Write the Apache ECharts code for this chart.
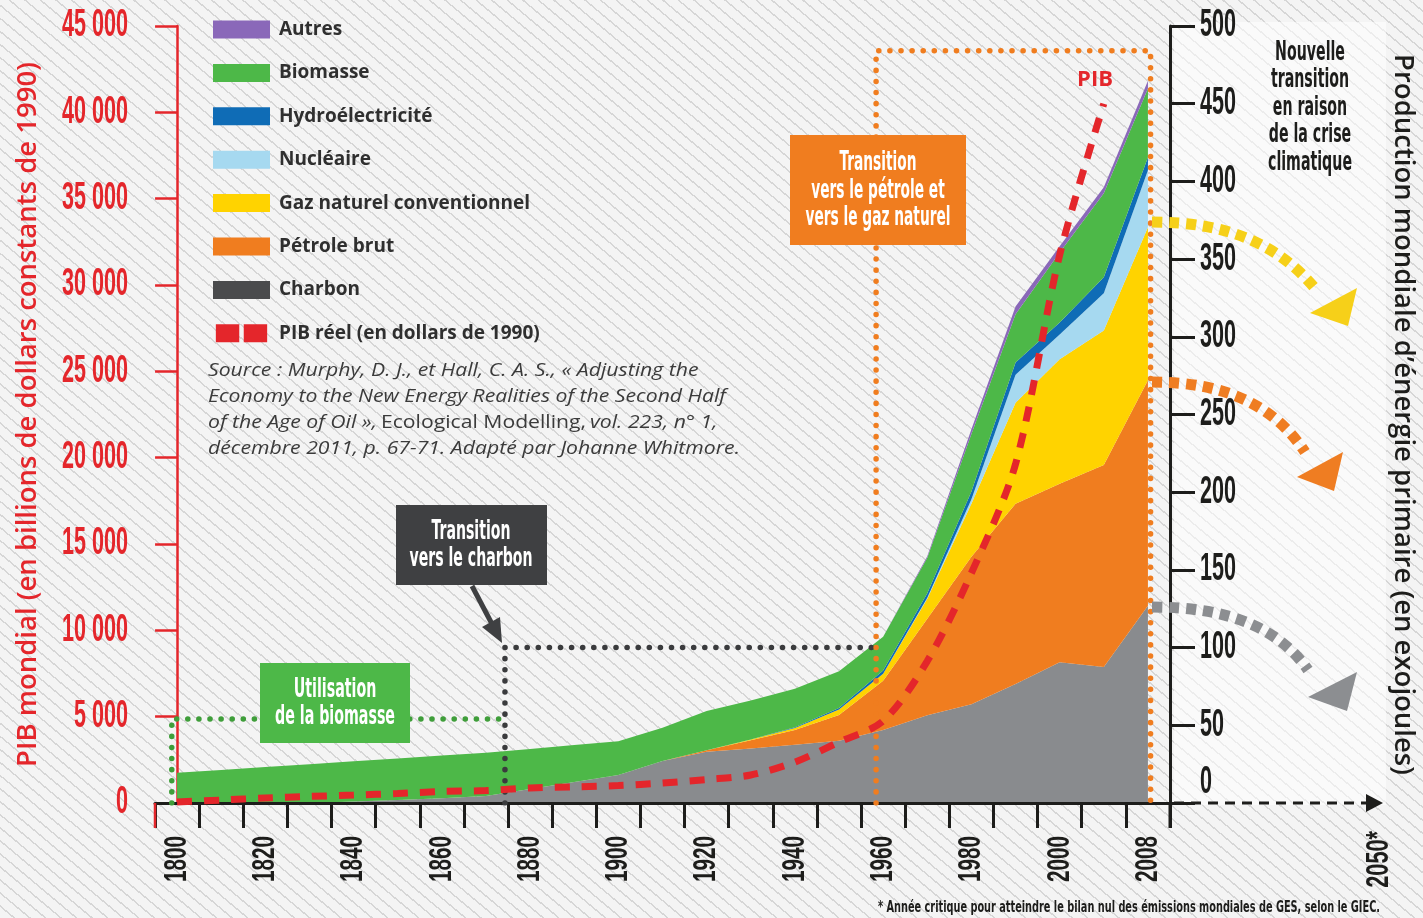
<!DOCTYPE html>
<html lang="fr">
<head>
<meta charset="utf-8">
<title>Transitions énergétiques et PIB mondial</title>
<script src="https://cdn.jsdelivr.net/npm/echarts@6/dist/echarts.min.js"></script>
<style>
  html, body { margin:0; padding:0; }
  body { width:1423px; height:918px; overflow:hidden;
    background-color:#f3f3f3;
    background-image: repeating-linear-gradient(40deg, #f4f4f4 0px, #f4f4f4 8.5px, #d6d6d6 8.5px, #d6d6d6 10px); }
  #chart { width:1423px; height:918px; }
</style>
</head>
<body>
<div id="chart"></div>
<script>
// ---------- Données ----------
const annees = ['1800','1810','1820','1830','1840','1850','1860','1870','1880','1890','1900','1910','1920','1930','1940','1950','1960','1970','1980','1990','2000','2004','2008'];
// Production d'énergie primaire (EJ)
const charbon   = [0,0,0,0,1,2,3,4.5,9,13.5,18,27,33,35,37.5,40,47,56.5,63.5,76.5,90.5,87.5,127];
const petrole   = [0,0,0,0,0,0,0,0,0,0,0,0,1,5.3,9.5,16.6,31.7,62,95,116,115,130,145];
const gaz       = [0,0,0,0,0,0,0,0,0,0,0,0,0,0.5,1.3,3.5,4.5,13,34,65,80,86.5,98.5];
const nucleaire = [0,0,0,0,0,0,0,0,0,0,0,0,0,0,0,0,0,0.5,3,18,16,24,36.6];
const hydro     = [0,0,0,0,0,0,0,0,0,0,0,0,0,0,0.5,1,2,3,5,8,7.7,10.3,8.4];
const biomasse  = [19.5,21.3,23.2,25,25.8,26.6,27.5,27.9,25.7,23.8,21.7,21.5,25.2,25.2,24.8,23.7,21.8,22.8,37,31,45,54,44.3];
const autres    = [0,0,0,0,0,0,0,0,0,0,0,0,0,0,0,0,0,1,3,5,4,4,5];
// PIB réel mondial (milliards de dollars de 1990)
const pib       = [60,170,290,380,460,550,670,720,870,930,1010,1160,1360,1620,2370,3530,4750,8220,13320,19630,31740,40500,null];
// Graduations et étiquettes
const pibMax = 45000, pibPas = 5000;
const energieMax = 500, energiePas = 50;
const graduationsPib = [0,5000,10000,15000,20000,25000,30000,35000,40000,45000];
const graduationsEnergie = [0,50,100,150,200,250,300,350,400,450,500];
const etiquettesAnnees = ['1800','1820','1840','1860','1880','1900','1920','1940','1960','1980','2000','2008'];
const etiquetteHorizon = '2050*';
// Périodes de transition (position sur l'axe des années en rang de catégorie, niveau en EJ)
const periodeBiomasse = { debut: -0.12, fin: 7.3,  niveau: 54 };
const periodeCharbon  = { debut: 7.43,  fin: 15.84, niveau: 100 };
const periodePetrole  = { debut: 15.84, fin: 22.06, niveau: 484 };

// ---------- Styles ----------
const RED = '#e4262b';
const INK = '#1d1d1b';
const COND = "'Liberation Sans Narrow','DejaVu Sans Condensed','Roboto Condensed','Arial Narrow','Liberation Sans',sans-serif";
const LAB = "'Liberation Sans',sans-serif";
const SANS = "'Open Sans','Noto Sans',sans-serif";
const C = {
  autres:'#8a68b9', biomasse:'#4db848', hydro:'#0f6cb6', nucleaire:'#a6d9f0',
  gaz:'#ffd300', petrole:'#f07d1f', charbon:'#898b8e', charbonLeg:'#4a4b4d'
};

const mctx = document.createElement('canvas').getContext('2d');
function widthOf(t, font){ mctx.font = font; return mctx.measureText(t).width; }
function fitScale(lines, font, target){ return target / Math.max(...lines.map(l => widthOf(l, font))); }
function milliers(v){ return String(v).replace(/\B(?=(\d{3})+(?!\d))/g, ' '); }

function condText(cx, cy, lines, color, target, size, lh){
  const font = `bold ${size}px ${COND}`;
  const s = fitScale(lines, font, target);
  return { type:'text', x:cx, y:cy, scaleX:s, z:120, silent:true,
    style:{ text: lines.join('\n'), x:0, y:0, font, fill:color, align:'center', textAlign:'center',
            verticalAlign:'middle', textVerticalAlign:'middle', lineHeight: lh } };
}
function label(x, y, text, font, scale, color, align, rotation){
  return { type:'text', x, y, scaleX:scale, rotation: rotation || 0, z:60, silent:true,
    style:{ text, x:0, y:0, font, fill:color, align, textAlign:align, verticalAlign:'middle', textVerticalAlign:'middle' } };
}

const chart = echarts.init(document.getElementById('chart'), null, { renderer:'canvas' });

function aire(name, data, color){
  return { name, type:'line', stack:'energie', data, xAxisIndex:0, yAxisIndex:1,
    symbol:'none', color, lineStyle:{ width:0, color }, areaStyle:{ color, opacity:1 }, z:2, silent:true };
}
function cadre(points, color){
  return { type:'line', xAxisIndex:1, yAxisIndex:1, data: points, symbol:'none', silent:true, z:5,
    lineStyle:{ color, width:5.5, type:[0.1, 11], cap:'round' } };
}

const srcFont = `italic 18px ${SANS}`;
const srcScale = 532 / widthOf('décembre 2011, p. 67-71. Adapté par Johanne Whitmore.', srcFont);
const footFont = `bold 15px ${COND}`;
const footTxt = '* Année critique pour atteindre le bilan nul des émissions mondiales de GES, selon le GIEC.';
const footScale = 502 / widthOf(footTxt, footFont);

const graphics = [
  { type:'rect', shape:{ x:1174, y:22, width:212, height:783 }, style:{ fill:'rgba(255,255,255,0.55)' }, z:-10, silent:true },
  // prolongements des axes
  { type:'line', shape:{ x1:155, y1:803, x2:155, y2:828 }, style:{ stroke:RED, lineWidth:2.5 }, z:50 },
  { type:'line', shape:{ x1:1170, y1:803, x2:1170, y2:828 }, style:{ stroke:INK, lineWidth:3 }, z:50 },
  { type:'line', shape:{ x1:1174, y1:803, x2:1368, y2:803 }, style:{ stroke:INK, lineWidth:3, lineDash:[10,7] }, z:50 },
  { type:'polygon', shape:{ points:[[1366,794],[1383,803],[1366,812]] }, style:{ fill:INK }, z:50 },
  // flèches de projection
  { type:'bezierCurve', shape:{ x1:1152, y1:222, cpx1:1232, cpy1:222, cpx2:1282, cpy2:247, x2:1318, y2:292 },
    style:{ stroke:'#f6d019', lineWidth:11, lineDash:[10,7], fill:null }, z:40 },
  { type:'polygon', shape:{ points:[[1357,288],[1310,313],[1348,326]] }, style:{ fill:'#f6d019' }, z:40 },
  { type:'bezierCurve', shape:{ x1:1152, y1:382, cpx1:1232, cpy1:382, cpx2:1277, cpy2:410, x2:1305, y2:452 },
    style:{ stroke:'#ef7d22', lineWidth:11, lineDash:[10,7], fill:null }, z:40 },
  { type:'polygon', shape:{ points:[[1343,452],[1297,477],[1334,491]] }, style:{ fill:'#ef7d22' }, z:40 },
  { type:'bezierCurve', shape:{ x1:1152, y1:607, cpx1:1232, cpy1:607, cpx2:1280, cpy2:630, x2:1308, y2:670 },
    style:{ stroke:'#8c8e91', lineWidth:11, lineDash:[10,7], fill:null }, z:40 },
  { type:'polygon', shape:{ points:[[1357,672],[1308,697],[1347,711]] }, style:{ fill:'#8c8e91' }, z:40 },
  // encadrés
  { type:'rect', shape:{ x:260, y:663, width:150, height:80 }, style:{ fill:'#4db848' }, z:110 },
  condText(335, 704, ['Utilisation','de la biomasse'], '#ffffff', 120, 26, 27),
  { type:'rect', shape:{ x:396, y:505, width:151, height:80 }, style:{ fill:'#3f4042' }, z:110 },
  condText(471, 546, ['Transition','vers le charbon'], '#ffffff', 123, 26, 27),
  { type:'line', shape:{ x1:472, y1:586, x2:492, y2:624 }, style:{ stroke:'#3f4042', lineWidth:5 }, z:110 },
  { type:'polygon', shape:{ points:[[502,643],[500,617],[482,627]] }, style:{ fill:'#3f4042' }, z:110 },
  { type:'rect', shape:{ x:790, y:135, width:176, height:110 }, style:{ fill:'#f07d1f' }, z:110 },
  condText(878, 191, ['Transition','vers le pétrole et','vers le gaz naturel'], '#ffffff', 145, 26, 27.5),
  condText(1310, 108, ['Nouvelle','transition','en raison','de la crise','climatique'], INK, 84, 26, 27.5),
  { type:'text', x:1095, y:80, z:120,
    style:{ text:'PIB', x:0, y:0, font:`bold 22px ${SANS}`, fill:RED, align:'center', textAlign:'center', verticalAlign:'middle', textVerticalAlign:'middle' } },
  // source
  { type:'text', x:208, y:358, scaleX:srcScale, z:120, silent:true,
    style:{ x:0, y:0, align:'left', textAlign:'left', verticalAlign:'top', textVerticalAlign:'top',
      text:'{i|Source : Murphy, D. J., et Hall, C. A. S., « Adjusting the}\n{i|Economy to the New Energy Realities of the Second Half}\n{i|of the Age of Oil »,} {n|Ecological Modelling,} {i|vol. 223, n° 1,}\n{i|décembre 2011, p. 67-71. Adapté par Johanne Whitmore.}',
      rich:{
        i:{ fontFamily:SANS, fontStyle:'italic', fontSize:18, fill:'#3b3b3b', color:'#3b3b3b', lineHeight:26 },
        n:{ fontFamily:SANS, fontStyle:'normal', fontSize:18, fill:'#3b3b3b', color:'#3b3b3b', lineHeight:26 }
      } } },
  // note
  { type:'text', x:878, y:908, scaleX:footScale, z:120,
    style:{ text:footTxt, x:0, y:0, font:footFont, fill:INK, align:'left', textAlign:'left', verticalAlign:'middle', textVerticalAlign:'middle' } }
];

const option = {
  animation:false,
  backgroundColor:'transparent',
  textStyle:{ fontFamily:SANS },
  grid:{ left:155, right:253, top:26, bottom:115, containLabel:false, outerBoundsMode:'none' },
  legend:{
    orient:'vertical', left:208, top:15, itemWidth:57, itemHeight:18, itemGap:24.4,
    icon:'rect', selectedMode:false,
    textStyle:{ fontFamily:SANS, fontWeight:'bold', fontSize:19, color:'#2f2f2f', padding:[0,0,0,4] },
    data:[
      { name:'Autres' }, { name:'Biomasse' }, { name:'Hydroélectricité' }, { name:'Nucléaire' },
      { name:'Gaz naturel conventionnel' }, { name:'Pétrole brut' },
      { name:'Charbon', itemStyle:{ color:C.charbonLeg, borderWidth:0 } },
      { name:'PIB réel (en dollars de 1990)', icon:'path://M0,0h26v20h-26z M31,0h26v20h-26z', itemStyle:{ color:RED, borderWidth:0 } }
    ]
  },
  xAxis:[{
    type:'category', data:annees, boundaryGap:true,
    axisLine:{ lineStyle:{ color:INK, width:3 } },
    axisTick:{ show:true, interval:0, length:25, lineStyle:{ color:INK, width:3 } },
    axisLabel:{ show:false },
    splitLine:{ show:false }, z:3
  },{
    type:'value', min:-0.5, max:22.5, show:false
  }],
  yAxis:[{
    type:'value', min:0, max:pibMax, interval:pibPas, position:'left',
    name:'PIB mondial (en billions de dollars constants de 1990)', nameLocation:'middle', nameGap:113, nameRotate:90,
    nameTextStyle:{ color:RED, fontFamily:SANS, fontWeight:600, fontSize:27.5 },
    axisLine:{ show:true, lineStyle:{ color:RED, width:2.5 } },
    axisTick:{ show:true, length:22, lineStyle:{ color:RED, width:2.5 } },
    axisLabel:{ show:false },
    splitLine:{ show:false }
  },{
    type:'value', min:0, max:energieMax, interval:energiePas, position:'right',
    name:'Production mondiale d’énergie primaire (en exojoules)', nameLocation:'middle', nameGap:219, nameRotate:-90,
    nameTextStyle:{ color:INK, fontFamily:SANS, fontWeight:600, fontSize:27.5 },
    axisLine:{ show:true, lineStyle:{ color:INK, width:3 } },
    axisTick:{ show:true, length:25, lineStyle:{ color:INK, width:3 } },
    axisLabel:{ show:false },
    splitLine:{ show:false }
  }],
  series:[
    aire('Charbon', charbon, C.charbon),
    aire('Pétrole brut', petrole, C.petrole),
    aire('Gaz naturel conventionnel', gaz, C.gaz),
    aire('Nucléaire', nucleaire, C.nucleaire),
    aire('Hydroélectricité', hydro, C.hydro),
    aire('Biomasse', biomasse, C.biomasse),
    aire('Autres', autres, C.autres),
    cadre([[periodeBiomasse.debut,0],[periodeBiomasse.debut,periodeBiomasse.niveau],[periodeBiomasse.fin,periodeBiomasse.niveau]], '#3f9e3a'),
    cadre([[periodeCharbon.debut,0],[periodeCharbon.debut,periodeCharbon.niveau],[periodeCharbon.fin,periodeCharbon.niveau]], '#3a3b3d'),
    cadre([[periodePetrole.debut,0],[periodePetrole.debut,periodePetrole.niveau],[periodePetrole.fin,periodePetrole.niveau],[periodePetrole.fin,0]], '#f07d1f'),
    { name:'PIB réel (en dollars de 1990)', type:'line', data:pib, xAxisIndex:0, yAxisIndex:0,
      symbol:'none', smooth:0.3, color:RED, lineStyle:{ color:RED, width:7, type:[15,12] }, z:6, silent:true }
  ]
};
chart.setOption(option);

// ---------- Étiquettes des axes, placées par les échelles d'ECharts ----------
const yFont = `bold 38px ${LAB}`;
const yScale = 66 / widthOf('45 000', yFont);
const xFont = `bold 32px ${LAB}`;
const xScale = 46 / widthOf('1800', xFont);
const axisLabels = [];
graduationsPib.forEach(v => {
  const y = chart.convertToPixel({ yAxisIndex:0 }, v);
  axisLabels.push(label(128, y, milliers(v), yFont, yScale, RED, 'right'));
});
graduationsEnergie.forEach(v => {
  const y = chart.convertToPixel({ yAxisIndex:1 }, v) - (v === 0 ? 20 : 0);
  axisLabels.push(label(1200, y, String(v), yFont, yScale, INK, 'left'));
});
etiquettesAnnees.forEach(a => {
  const x = chart.convertToPixel({ xAxisIndex:0 }, a);
  axisLabels.push(label(x, 836, a, xFont, xScale, INK, 'right', Math.PI / 2));
});
axisLabels.push(label(1379, 831, etiquetteHorizon, xFont, xScale * 1.05, INK, 'right', Math.PI / 2));

chart.setOption({ graphic:{ elements: graphics.concat(axisLabels) } });
</script>
</body>
</html>
